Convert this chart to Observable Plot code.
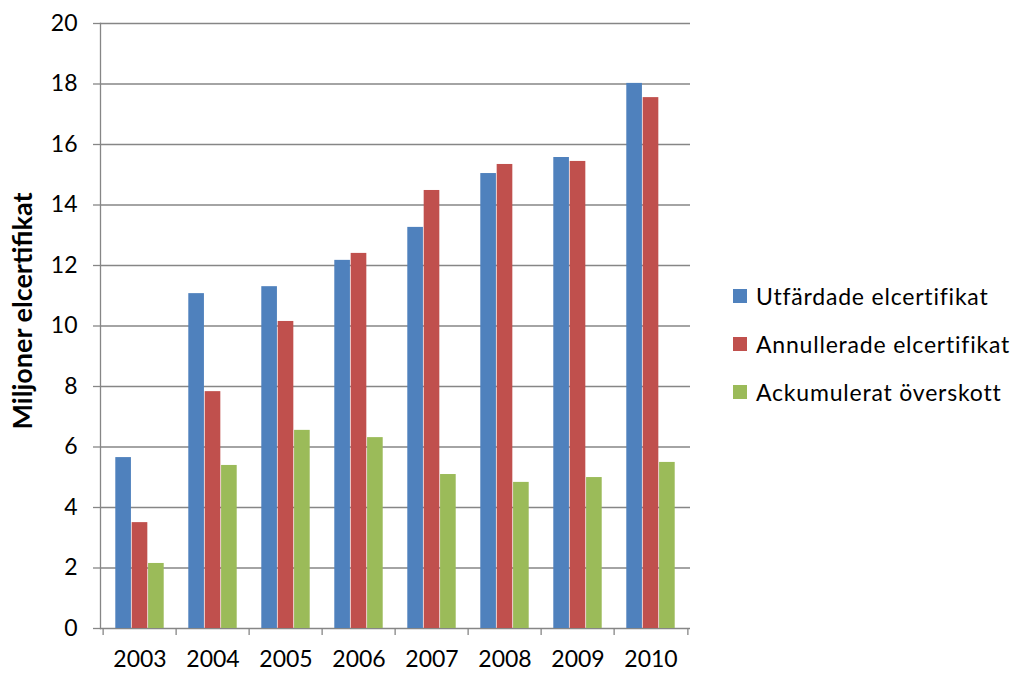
<!DOCTYPE html>
<html>
<head>
<meta charset="utf-8">
<script src="https://cdn.jsdelivr.net/npm/d3@7"></script>
<script src="https://cdn.jsdelivr.net/npm/@observablehq/plot@0.6"></script>
<style>
  html, body { margin: 0; padding: 0; background: #fff; }
  #wrap { position: relative; width: 1011px; height: 673px; font-family: Lato, "Open Sans", sans-serif; }
  #wrap svg { overflow: visible; }
  #legend { position: absolute; left: 733px; top: 272px; font-size: 23px; letter-spacing: 0.8px; color: #000; }
  .item { display: flex; align-items: center; height: 48px; }
  .sw { width: 14px; height: 14px; margin-right: 9px; flex: none; }
</style>
</head>
<body>
<div id="wrap"></div>
<script>
const years = ["2003", "2004", "2005", "2006", "2007", "2008", "2009", "2010"];
const seriesNames = ["Utfärdade elcertifikat", "Annullerade elcertifikat", "Ackumulerat överskott"];
const utfardade = [5.65, 11.07, 11.3, 12.17, 13.26, 15.04, 15.57, 18.02];
const annullerade = [3.5, 7.83, 10.15, 12.4, 14.48, 15.34, 15.44, 17.55];
const overskott = [2.15, 5.39, 6.55, 6.31, 5.09, 4.83, 4.99, 5.49];
const yTicks = [0, 2, 4, 6, 8, 10, 12, 14, 16, 18, 20];
const colors = ["#4F81BD", "#C0504D", "#9BBB59"];
const yTitle = "Miljoner elcertifikat";

const seriesValues = [utfardade, annullerade, overskott];
const W = 1011, H = 673, mL = 100, mR = 321, mT = 23, mB = 45;
const band = (W - mL - mR) / years.length;
const barW = band / 4.5;
const gap = band - 3 * barW;

const barMarks = seriesValues.map((vals, i) => {
  const data = years.map((y, j) => ({year: y, value: vals[j]}));
  const left = gap / 2 + i * barW;
  const right = band - left - barW;
  return Plot.barY(data, {x: "year", y: "value", fill: colors[i], insetLeft: left, insetRight: right});
});

const chart = Plot.plot({
  width: W, height: H,
  marginLeft: mL, marginRight: mR, marginTop: mT, marginBottom: mB,
  style: {fontFamily: "Lato, 'Open Sans', sans-serif", fontSize: "23px", color: "#000", background: "#fff"},
  x: {domain: years, padding: 0, axis: null},
  y: {domain: [0, 20], axis: null},
  marks: [
    Plot.gridY(yTicks, {stroke: "#868686", strokeOpacity: 1, strokeWidth: 1.3}),
    ...barMarks,
    Plot.axisY(yTicks, {tickSize: 7, tickPadding: 16, stroke: "#868686", strokeWidth: 1.3, fill: "#000", label: null, fontSize: 23}),
    Plot.axisX({tickSize: 0, tickPadding: 22, label: null, fill: "#000", fontSize: 23}),
    Plot.ruleX(years, {x: d => d, y1: 0, y2: 0, dx: -band / 2, insetBottom: -7, stroke: "#868686", strokeWidth: 1.3}),
    Plot.ruleX([years[years.length - 1]], {x: d => d, y1: 0, y2: 0, dx: band / 2, insetBottom: -7, stroke: "#868686", strokeWidth: 1.3}),
    Plot.frame({anchor: "left", stroke: "#868686", strokeWidth: 1.3}),
    Plot.text([yTitle], {frameAnchor: "left", textAnchor: "middle", dx: -77, dy: -15, rotate: -90, fontWeight: "bold", fontSize: 27, fill: "#000"})
  ]
});

const wrap = document.getElementById("wrap");
wrap.appendChild(chart);
const legend = document.createElement("div");
legend.id = "legend";
seriesNames.forEach((name, i) => {
  const item = document.createElement("div");
  item.className = "item";
  const sw = document.createElement("div");
  sw.className = "sw";
  sw.style.background = colors[i];
  const label = document.createElement("span");
  label.textContent = name;
  item.appendChild(sw);
  item.appendChild(label);
  legend.appendChild(item);
});
wrap.appendChild(legend);
</script>
</body>
</html>
